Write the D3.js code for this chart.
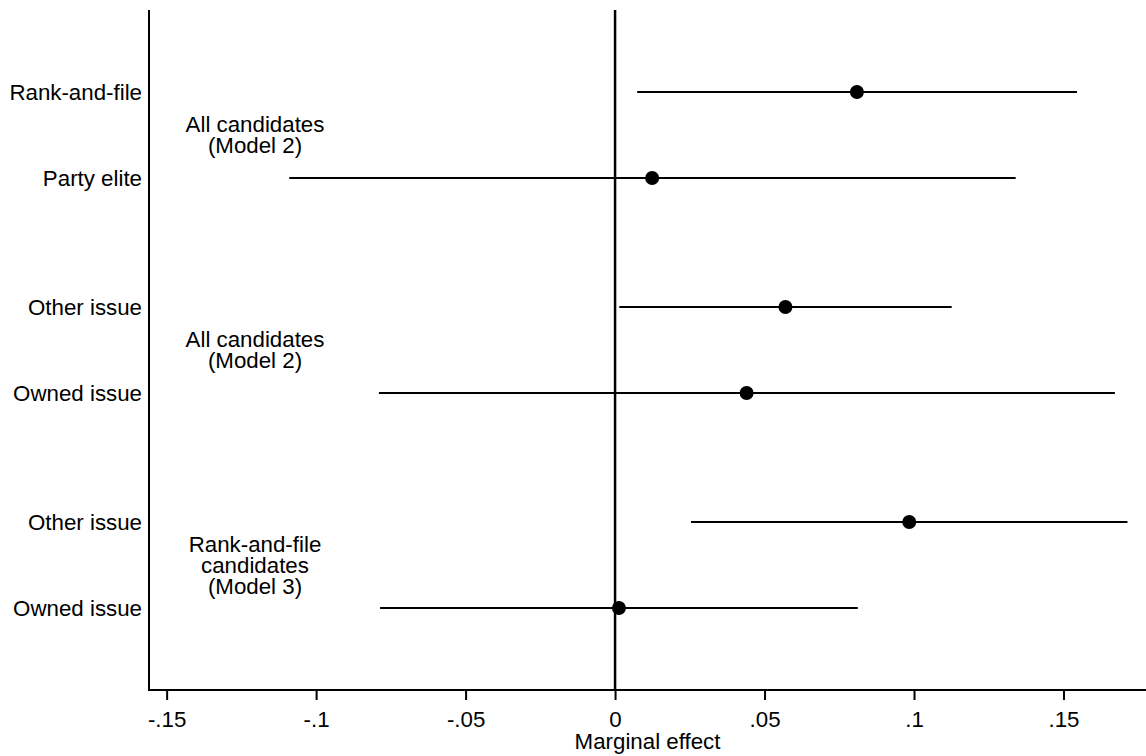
<!DOCTYPE html>
<html>
<head>
<meta charset="utf-8">
<script src="https://cdn.jsdelivr.net/npm/d3@7"></script>
<style>
  html, body { margin: 0; padding: 0; background: #fff; }
  svg { display: block; font-family: "Liberation Sans", Arial, sans-serif; }
</style>
</head>
<body>
<svg id="chart" width="1146" height="756"></svg>
<script>
// Coefficient plot: marginal effects with 95% confidence intervals
const rowLabels = ["Rank-and-file", "Party elite", "Other issue", "Owned issue", "Other issue", "Owned issue"];
const rowPositions = [1, 2, 3.5, 4.5, 6, 7];
const estimates = [0.0809, 0.0124, 0.0570, 0.0440, 0.0984, 0.0013];
const lower = [0.0074, -0.1090, 0.0014, -0.0790, 0.0254, -0.0786];
const upper = [0.1545, 0.1340, 0.1126, 0.1672, 0.1714, 0.0812];

const groupLabels = [
  ["All candidates", "(Model 2)"],
  ["All candidates", "(Model 2)"],
  ["Rank-and-file", "candidates", "(Model 3)"]
];
const groupCenters = [1.5, 4, 6.5];

const xTicks = [-0.15, -0.1, -0.05, 0, 0.05, 0.1, 0.15];
const xTickLabels = ["-.15", "-.1", "-.05", "0", ".05", ".1", ".15"];
const xTitle = "Marginal effect";

(function draw() {
  const svg = d3.select("#chart");
  const fontSize = 22.3;

  const plotLeft = 149, plotRight = 1146, plotTop = 10, plotBottom = 690;

  const x = d3.scaleLinear().domain([-0.1559, 0.1776]).range([plotLeft, plotRight]);
  const y = d3.scaleLinear().domain([0.047, 7.953]).range([plotTop, plotBottom]);

  // x axis
  const xAxis = d3.axisBottom(x)
    .tickValues(xTicks)
    .tickSize(10)
    .tickSizeOuter(0)
    .tickFormat((d, i) => xTickLabels[i]);

  const gx = svg.append("g")
    .attr("transform", `translate(0,${plotBottom})`)
    .call(xAxis);
  gx.select(".domain").attr("stroke", "#000").attr("stroke-width", 2)
    .attr("d", `M${plotLeft},0H${plotRight}`);
  gx.selectAll(".tick line").attr("stroke", "#000").attr("stroke-width", 2);
  gx.selectAll(".tick text")
    .attr("fill", "#000")
    .attr("font-size", fontSize)
    .attr("font-family", "Liberation Sans, Arial, sans-serif")
    .attr("y", 0)
    .attr("dy", null)
    .attr("transform", "translate(0,37)");

  // y axis spine
  svg.append("line")
    .attr("x1", plotLeft).attr("x2", plotLeft)
    .attr("y1", plotTop).attr("y2", plotBottom + 1)
    .attr("stroke", "#000").attr("stroke-width", 2);

  // x axis title
  svg.append("text")
    .attr("x", (plotLeft + plotRight) / 2)
    .attr("y", 749)
    .attr("text-anchor", "middle")
    .attr("font-size", fontSize)
    .attr("fill", "#000")
    .text(xTitle);

  // zero reference line
  svg.append("line")
    .attr("x1", x(0)).attr("x2", x(0))
    .attr("y1", plotTop).attr("y2", plotBottom)
    .attr("stroke", "#000").attr("stroke-width", 2.5);

  // row labels
  svg.append("g").selectAll("text")
    .data(rowLabels)
    .join("text")
    .attr("x", 142)
    .attr("y", (d, i) => y(rowPositions[i]) + 8)
    .attr("text-anchor", "end")
    .attr("font-size", fontSize)
    .attr("fill", "#000")
    .text(d => d);

  // group labels
  const lineGap = 21;
  groupLabels.forEach((lines, g) => {
    const cy = y(groupCenters[g]);
    const n = lines.length;
    const t = svg.append("text")
      .attr("text-anchor", "middle")
      .attr("font-size", fontSize)
      .attr("fill", "#000");
    lines.forEach((s, k) => {
      t.append("tspan")
        .attr("x", 255)
        .attr("y", cy + 7.5 + (k - (n - 1) / 2) * lineGap)
        .text(s);
    });
  });

  // confidence intervals
  svg.append("g").selectAll("line")
    .data(rowPositions)
    .join("line")
    .attr("x1", (d, i) => x(lower[i]))
    .attr("x2", (d, i) => x(upper[i]))
    .attr("y1", d => y(d))
    .attr("y2", d => y(d))
    .attr("stroke", "#000")
    .attr("stroke-width", 2);

  // point estimates
  svg.append("g").selectAll("circle")
    .data(rowPositions)
    .join("circle")
    .attr("cx", (d, i) => x(estimates[i]))
    .attr("cy", d => y(d))
    .attr("r", 7)
    .attr("fill", "#000");
})();
</script>
</body>
</html>
